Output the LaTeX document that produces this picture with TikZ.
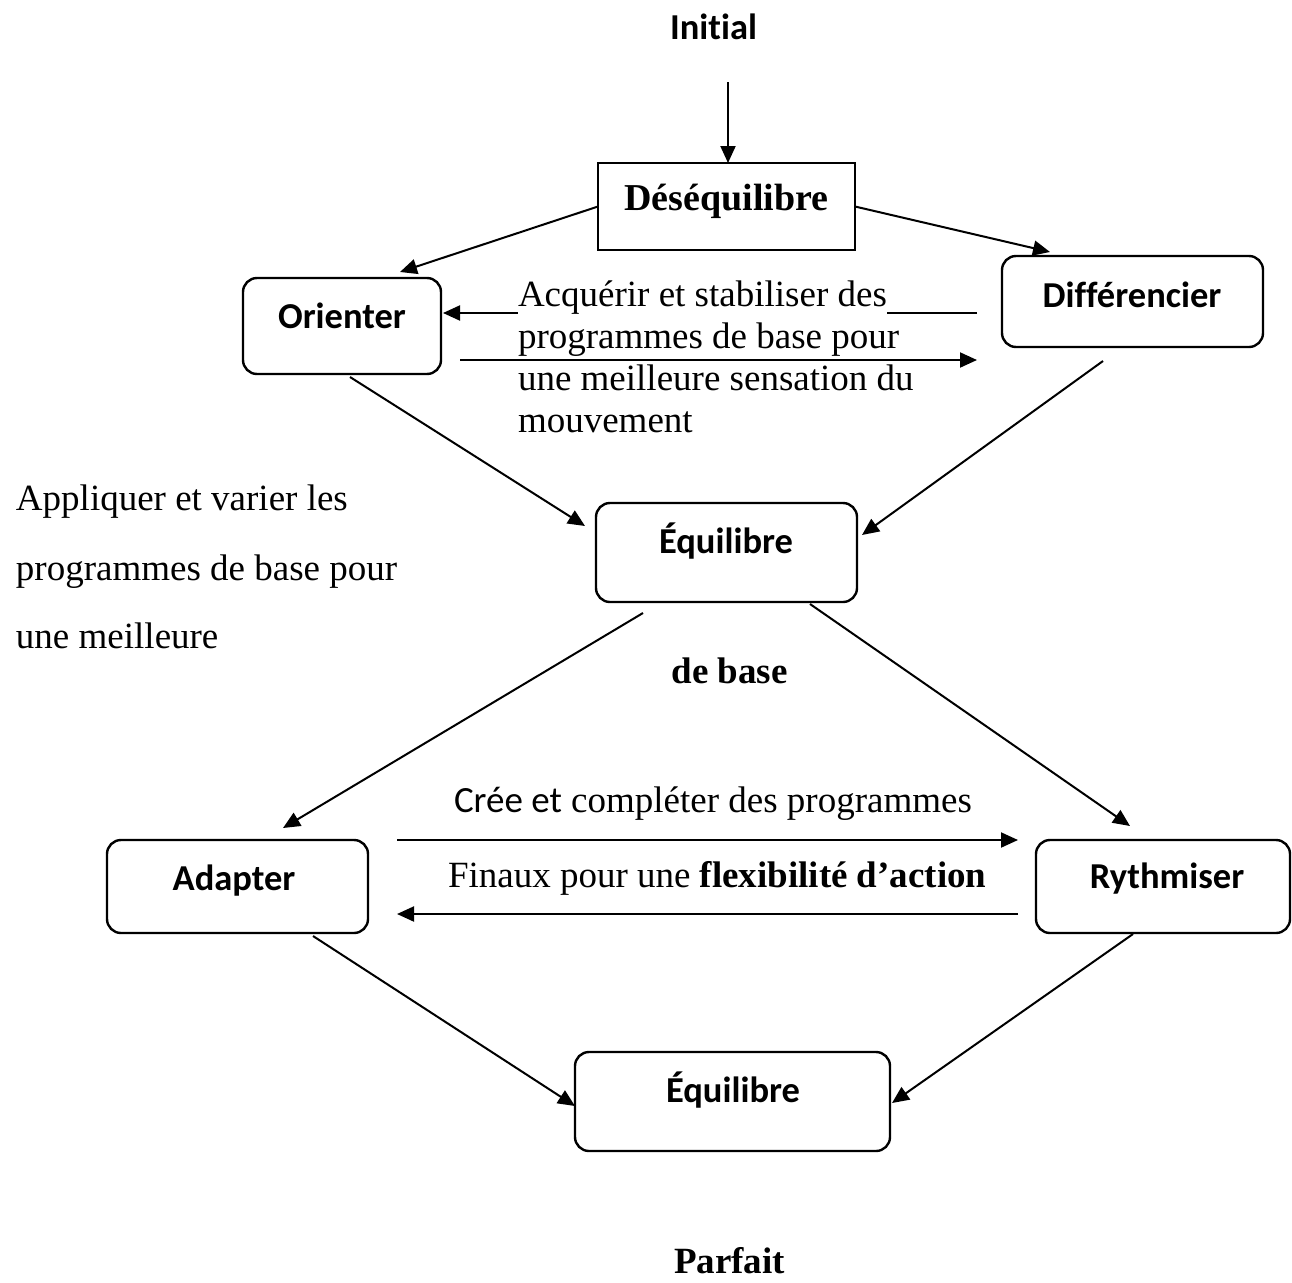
\documentclass[tikz,border=0pt]{standalone}
\usepackage{fontspec}
\setmainfont{Liberation Serif}
\newfontfamily\carlito[Ligatures=NoCommon]{Carlito}
\usetikzlibrary{arrows.meta,calc}

\begin{document}
\begin{tikzpicture}[x=1pt,y=-1pt,
  txt/.style={inner sep=0pt, outer sep=0pt, font=\fontsize{37pt}{42pt}\selectfont},
  lab/.style={txt, anchor=base, font=\fontsize{36.5pt}{42pt}\selectfont\carlito\bfseries},
  ttl/.style={txt, anchor=base, font=\fontsize{37pt}{42pt}\selectfont\bfseries},
  row/.style={txt, anchor=base west},
  mask/.style={fill=white, inner ysep=3pt},
  card/.style={draw, line width=2.4pt, rounded corners=14pt, inner sep=0pt, outer sep=0pt},
  sharpbox/.style={draw, line width=2pt, inner sep=0pt, outer sep=0pt},
  link/.style={line width=2pt, -{Triangle[length=17pt,width=15pt]}},
]
\useasboundingbox (0,0) rectangle (1292,1282);

% boxes
\node[sharpbox, minimum width=257pt, minimum height=87pt] (des) at (726.5,206.5) {};
\node[card, minimum width=198pt, minimum height=96pt] (ori) at (342,326) {};
\node[card, minimum width=261pt, minimum height=91pt] (dif) at (1132.5,301.5) {};
\node[card, minimum width=261pt, minimum height=99pt] (eq1) at (726.5,552.5) {};
\node[card, minimum width=261pt, minimum height=93pt] (ada) at (237.5,886.5) {};
\node[card, minimum width=254pt, minimum height=93pt] (ryt) at (1163,886.5) {};
\node[card, minimum width=315pt, minimum height=99pt] (eq2) at (732.5,1101.5) {};

% box labels
\node[lab] (ini) at (713.5,39) {Initial};
\node[ttl, font=\fontsize{38pt}{42pt}\selectfont\bfseries] (desl) at (726.5,210) {Déséquilibre};
\node[lab] (oril) at (342,328) {Orienter};
\node[lab] (difl) at (1132,307) {Différencier};
\node[lab] (eq1l) at (726,553) {Équilibre};
\node[lab] (adal) at (234,890) {Adapter};
\node[lab] (rytl) at (1167,888) {Rythmiser};
\node[lab] (eq2l) at (733,1102) {Équilibre};
\node[ttl] (base) at (729.5,683) {de base};
\node[ttl] (parf) at (729.5,1273) {Parfait};

% entry arrow
\coordinate (ini0) at (728,82);
\draw[link] (ini0) -- (ini0 |- des.north);

% from the imbalance box
\draw[link] (des.west) -- ($(ori.north east)+(-41,-6)$);
\draw[link] (des.east) -- ($(dif.north west)+(48,-4)$);

% upper exchange: back arrow, text, forward arrow
\draw[link] ($(dif.west)+(-25,11.5)$) -- ($(ori.east)+(2,-13)$);
\node[row, mask] (t1) at (518,306) {Acquérir et stabiliser des};
\node[row] (t2) at (518,348) {programmes de base pour};
\node[row] (t3) at (518,390) {une meilleure sensation du};
\node[row] (t4) at (518,432) {mouvement};
\draw[link] ($(ori.east)+(19,34)$) -- ($(dif.west)+(-25,58.5)$);

% towards the first balance
\draw[link] ($(ori.south)+(8,3)$) -- ($(eq1.west)+(-11,-26.5)$);
\draw[link] ($(dif.south)+(-29.5,14)$) -- ($(eq1.east)+(5,-17.5)$);

% left side text
\node[row] (a1) at (16,510) {Appliquer et varier les};
\node[row] (a2) at (16,580) {programmes de base pour};
\node[row] (a3) at (16,648) {une meilleure};

% towards adapting and rhythm
\draw[link] ($(eq1.south)+(-83.5,11)$) -- ($(ada.north)+(45.5,-12)$);
\draw[link] ($(eq1.south)+(83.5,2)$) -- ($(ryt.north)+(-33,-14)$);

% lower exchange
\node[row] (c1) at (454,812) {{\carlito Crée et} compléter des programmes};
\draw[link] ($(ada.east)+(29,-46.5)$) -- ($(ryt.west)+(-18,-46.5)$);
\node[row] (c2) at (448,887) {Finaux pour une \textbf{flexibilité d’action}};
\draw[link] ($(ryt.west)+(-18,27.5)$) -- ($(ada.east)+(29,27.5)$);

% towards the final balance
\draw[link] ($(ada.south)+(75.5,3)$) -- ($(eq2.west)+(0,4.5)$);
\draw[link] ($(ryt.south)+(-30,1)$) -- ($(eq2.east)+(2,1.5)$);
\end{tikzpicture}
\end{document}
